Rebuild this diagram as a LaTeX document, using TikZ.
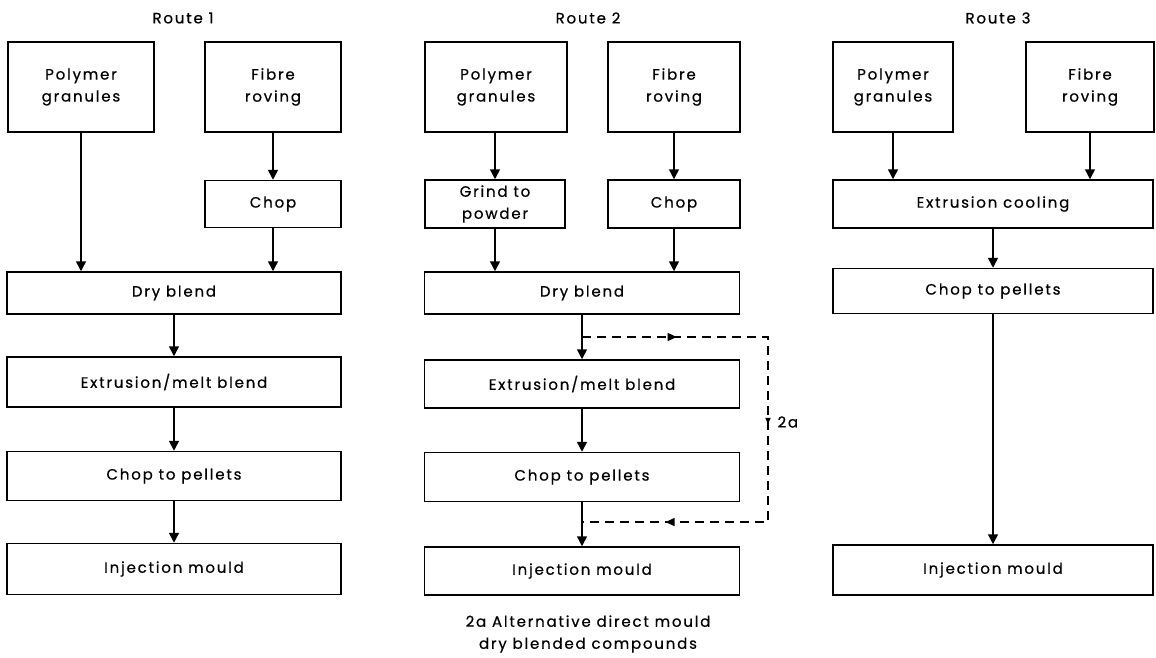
\documentclass[tikz,border=0pt]{standalone}
\usepackage{fontspec}
\setmainfont{Poppins}[LetterSpace=12, FakeBold=0.6]
\usetikzlibrary{arrows.meta, calc, decorations.markings}

\tikzset{
  stage/.style={draw, line width=1.5pt, align=center, inner sep=2pt},
  flow/.style={line width=1.5pt, -{Triangle[length=10pt, width=10pt]}},
  altflow/.style={line width=1.3pt, dash pattern=on 9pt off 6pt,
    decoration={markings,
      mark=at position 0.17 with {\arrow{Triangle[length=9pt, width=8pt]}},
      mark=at position 0.49 with {\arrow{Triangle[length=6pt, width=5pt]}},
      mark=at position 0.85 with {\arrow{Triangle[length=9pt, width=8pt]}}},
    postaction={decorate}}
}

\begin{document}
\begin{tikzpicture}[x=1pt, y=-1pt, every node/.style={font=\fontsize{15}{22}\selectfont}]
    \useasboundingbox (0, 0) rectangle (1156, 658);
    % Route 1
    \node (t1) at (183, 18) {Route 1};
    \node[stage, minimum width=146pt, minimum height=90pt] (p1) at (81, 87) {Polymer\\granules};
    \node[stage, minimum width=136pt, minimum height=90pt] (f1) at (273, 87) {Fibre\\roving};
    \node[stage, minimum width=136pt, minimum height=47pt] (c1) at (273, 204) {Chop};
    \node[stage, minimum width=334pt, minimum height=42pt] (d1) at (174, 293) {Dry blend};
    \node[stage, minimum width=334pt, minimum height=50pt] (e1) at (174, 382) {Extrusion/melt blend};
    \node[stage, minimum width=334pt, minimum height=49pt] (k1) at (174, 476) {Chop to pellets};
    \node[stage, minimum width=334pt, minimum height=51pt] (m1) at (174, 569) {Injection mould};
    \draw[flow] (p1.south) -- (p1.south |- d1.north);
    \draw[flow] (f1) -- (c1);
    \draw[flow] (c1.south) -- (c1.south |- d1.north);
    \draw[flow] (d1) -- (e1);
    \draw[flow] (e1) -- (k1);
    \draw[flow] (k1) -- (m1);

    % Route 2
    \node (t2) at (588, 18) {Route 2};
    \node[stage, minimum width=142pt, minimum height=90pt] (p2) at (496, 87) {Polymer\\granules};
    \node[stage, minimum width=132pt, minimum height=90pt] (f2) at (674, 87) {Fibre\\roving};
    \node[stage, minimum width=140pt, minimum height=48pt] (g2) at (495, 204) {Grind to\\powder};
    \node[stage, minimum width=132pt, minimum height=48pt] (c2) at (674, 204) {Chop};
    \node[stage, minimum width=315pt, minimum height=42pt] (d2) at (582, 293) {Dry blend};
    \node[stage, minimum width=315pt, minimum height=48pt] (e2) at (582, 384) {Extrusion/melt blend};
    \node[stage, minimum width=315pt, minimum height=49pt] (k2) at (582, 477) {Chop to pellets};
    \node[stage, minimum width=315pt, minimum height=48pt] (m2) at (582, 571) {Injection mould};
    \draw[flow] (g2.north |- p2.south) -- (g2.north);
    \draw[flow] (f2) -- (c2);
    \draw[flow] (g2.south) -- (g2.south |- d2.north);
    \draw[flow] (c2.south) -- (c2.south |- d2.north);
    \draw[flow] (d2) -- (e2);
    \draw[flow] (e2) -- (k2);
    \draw[flow] (k2) -- (m2);
    % alternative 2a: direct mould
    \coordinate (split) at ($(d2.south)!0.5!(e2.north)$);
    \coordinate (join) at ($(k2.south)!0.45!(m2.north)$);
    \draw[altflow] (split) -- ++(186, 0) |- (join);
    \node[anchor=west] (alt) at (774, 422) {2a};
    \node[align=center] (note) at (588, 634) {2a Alternative direct mould\\dry blended compounds};

    % Route 3
    \node (t3) at (998, 18) {Route 3};
    \node[stage, minimum width=120pt, minimum height=90pt] (p3) at (893, 87) {Polymer\\granules};
    \node[stage, minimum width=128pt, minimum height=90pt] (f3) at (1090, 87) {Fibre\\roving};
    \node[stage, minimum width=320pt, minimum height=48pt] (x3) at (993, 204) {Extrusion cooling};
    \node[stage, minimum width=320pt, minimum height=45pt] (k3) at (993, 291) {Chop to pellets};
    \node[stage, minimum width=320pt, minimum height=50pt] (m3) at (993, 570) {Injection mould};
    \draw[flow] (p3.south) -- (p3.south |- x3.north);
    \draw[flow] (f3.south) -- (f3.south |- x3.north);
    \draw[flow] (x3) -- (k3);
    \draw[flow] (k3) -- (m3);
  \end{tikzpicture}
\end{document}
